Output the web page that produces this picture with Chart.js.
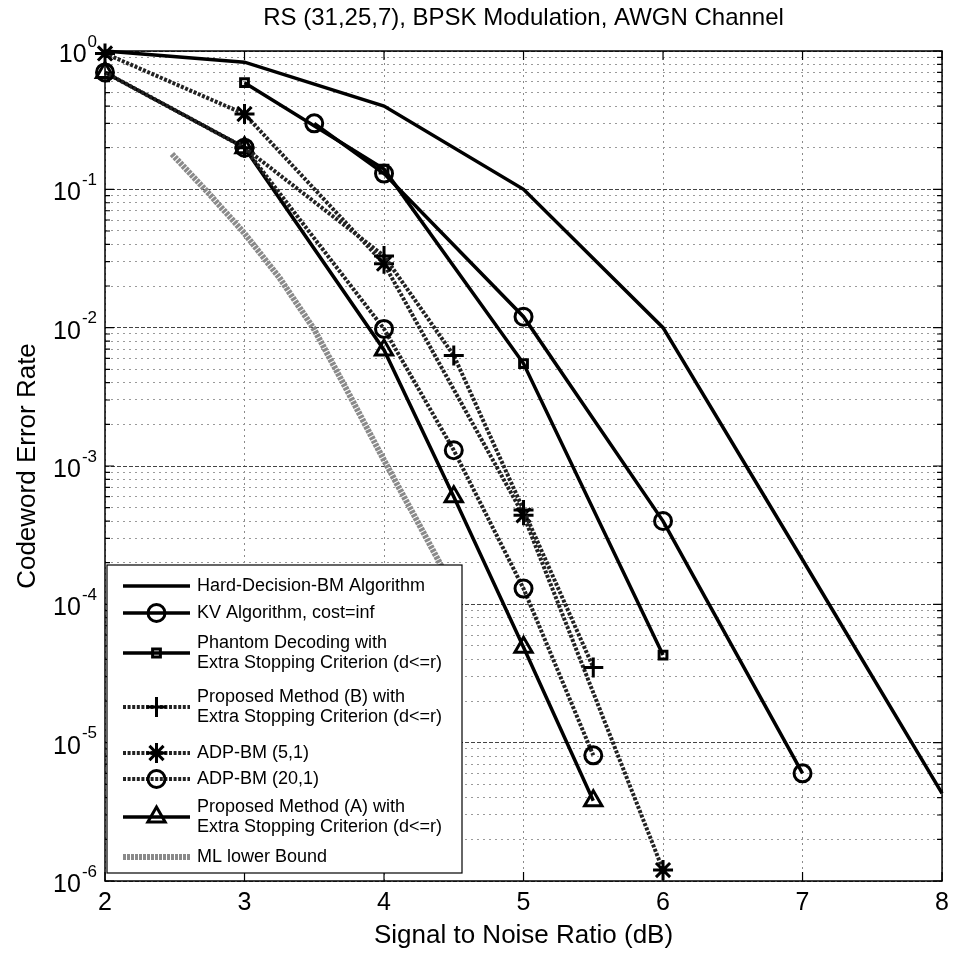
<!DOCTYPE html>
<html>
<head>
<meta charset="utf-8">
<script src="https://cdn.jsdelivr.net/npm/chart.js@4.4.1/dist/chart.umd.min.js"></script>
<style>
  html, body { margin: 0; padding: 0; background: #ffffff; }
  canvas { display: block; }
</style>
</head>
<body>
<canvas id="c" width="956" height="954"></canvas>
<script>
// ---------------- DATA ----------------
const chartTitle = 'RS (31,25,7), BPSK Modulation, AWGN Channel';
const xAxisTitle = 'Signal to Noise Ratio (dB)';
const yAxisTitle = 'Codeword Error Rate';

const xTickValues = [2, 3, 4, 5, 6, 7, 8];
const yMajorValues = [1, 1e-1, 1e-2, 1e-3, 1e-4, 1e-5, 1e-6];
const yTickBase = '10';
const yTickExponents = ['0', '-1', '-2', '-3', '-4', '-5', '-6'];

const snrHD = [2, 3, 4, 5, 6, 7, 8];
const cerHD = [1.0, 0.83, 0.40, 0.10, 0.010, 2.1e-4, 4.3e-6];

const snrKV = [3.5, 4, 5, 6, 7];
const cerKV = [0.30, 0.13, 0.012, 4.0e-4, 6.0e-6];

const snrPhantom = [3, 4, 5, 6];
const cerPhantom = [0.59, 0.14, 0.0055, 4.3e-5];

const snrPropB = [3, 4, 4.5, 5, 5.5];
const cerPropB = [0.20, 0.033, 0.0063, 4.8e-4, 3.5e-5];

const snrADP51 = [2, 3, 4, 5, 6];
const cerADP51 = [0.96, 0.35, 0.029, 4.4e-4, 1.2e-6];

const snrADP201 = [2, 3, 4, 4.5, 5, 5.5];
const cerADP201 = [0.70, 0.20, 0.0098, 1.3e-3, 1.3e-4, 8.1e-6];

const snrPropA = [2, 3, 4, 4.5, 5, 5.5];
const cerPropA = [0.70, 0.20, 0.0069, 6.0e-4, 4.9e-5, 3.8e-6];

const snrML = [2.48, 2.75, 3, 3.25, 3.5, 3.75, 4, 4.25, 4.45];
const cerML = [0.18, 0.092, 0.048, 0.023, 0.0097, 0.0033, 0.0011, 3.8e-4, 1.6e-4];

// ---------------- STYLES ----------------
const FONT = '"Liberation Sans", Arial, Helvetica, sans-serif';
const pts = (xs, ys) => xs.map((x, i) => ({ x: x, y: ys[i] }));
const DOT = [3, 1.6];

const seriesDefs = [
  { label: ['Hard-Decision-BM Algorithm'], x: snrHD, y: cerHD, color: '#000', width: 3.5, dash: [], style: false, r: 0 },
  { label: ['KV Algorithm, cost=inf'], x: snrKV, y: cerKV, color: '#000', width: 3.5, dash: [], style: 'circle', r: 8.5 },
  { label: ['Phantom Decoding with', 'Extra Stopping Criterion (d<=r)'], x: snrPhantom, y: cerPhantom, color: '#000', width: 3.5, dash: [], style: 'rect', r: 5.5 },
  { label: ['Proposed Method (B) with', 'Extra Stopping Criterion (d<=r)'], x: snrPropB, y: cerPropB, color: '#222', width: 4, dash: DOT, style: 'cross', r: 10 },
  { label: ['ADP-BM (5,1)'], x: snrADP51, y: cerADP51, color: '#222', width: 4, dash: DOT, style: 'star', r: 10 },
  { label: ['ADP-BM (20,1)'], x: snrADP201, y: cerADP201, color: '#222', width: 4, dash: DOT, style: 'circle', r: 8.5 },
  { label: ['Proposed Method (A) with', 'Extra Stopping Criterion (d<=r)'], x: snrPropA, y: cerPropA, color: '#000', width: 3.5, dash: [], style: 'triangle', r: 10 },
  { label: ['ML lower Bound'], x: snrML, y: cerML, color: '#8a8a8a', width: 6, dash: [3, 1], style: false, r: 0 }
];

const datasets = seriesDefs.map(s => ({
  label: s.label.join(' '),
  data: pts(s.x, s.y),
  borderColor: s.color,
  borderWidth: s.width,
  borderDash: s.dash,
  backgroundColor: 'rgba(0,0,0,0)',
  pointStyle: s.style || 'circle',
  pointRadius: s.style ? s.r : 0,
  pointBorderWidth: 3,
  pointBorderColor: '#000',
  pointBackgroundColor: 'rgba(0,0,0,0)',
  pointHoverRadius: s.style ? s.r : 0,
  tension: 0,
  fill: false,
  clip: false
}));

function isMajor(v) {
  const l = Math.log10(v);
  return Math.abs(l - Math.round(l)) < 1e-9;
}

// ---------------- PLUGIN: box, inner ticks, y labels, legend, title ----------------
const decorPlugin = {
  id: 'decor',
  afterDraw(chart) {
    const ctx = chart.ctx;
    const ca = chart.chartArea;
    const xs = chart.scales.x, ys = chart.scales.y;
    ctx.save();
    // box
    ctx.strokeStyle = '#000';
    ctx.lineWidth = 1.5;
    ctx.setLineDash([]);
    ctx.strokeRect(ca.left, ca.top, ca.right - ca.left, ca.bottom - ca.top);
    // inner ticks
    ctx.lineWidth = 1.2;
    ctx.beginPath();
    xTickValues.forEach(v => {
      const px = xs.getPixelForValue(v);
      ctx.moveTo(px, ca.bottom); ctx.lineTo(px, ca.bottom - 9);
      ctx.moveTo(px, ca.top); ctx.lineTo(px, ca.top + 9);
    });
    ys.ticks.forEach(t => {
      const py = ys.getPixelForValue(t.value);
      const len = isMajor(t.value) ? 9 : 5;
      ctx.moveTo(ca.left, py); ctx.lineTo(ca.left + len, py);
      ctx.moveTo(ca.right, py); ctx.lineTo(ca.right - len, py);
    });
    ctx.stroke();

    // y tick labels: 10 with raised exponent
    ctx.fillStyle = '#000';
    ctx.textBaseline = 'middle';
    yMajorValues.forEach((v, i) => {
      const py = ys.getPixelForValue(v);
      const rightX = ca.left - 8;
      ctx.font = '17px ' + FONT;
      ctx.textAlign = 'left';
      const ew = ctx.measureText(yTickExponents[i]).width;
      const ex = rightX - ew;
      ctx.fillText(yTickExponents[i], ex, py - 9);
      ctx.font = '25px ' + FONT;
      ctx.textAlign = 'right';
      ctx.fillText(yTickBase, ex - 1, py + 4);
    });

    // legend
    const L = { left: ca.left + 2, top: 565, right: 462, bottom: ca.bottom - 8 };
    ctx.fillStyle = '#fff';
    ctx.fillRect(L.left, L.top, L.right - L.left, L.bottom - L.top);
    ctx.strokeStyle = '#000';
    ctx.lineWidth = 1.2;
    ctx.strokeRect(L.left, L.top, L.right - L.left, L.bottom - L.top);
    const rowsY = [586, 613, 653, 707, 753, 779, 817, 857];
    const x1 = 123, x2 = 190, xm = 156.5, xt = 197;
    ctx.font = '18px ' + FONT;
    ctx.textBaseline = 'middle';
    ctx.textAlign = 'left';
    seriesDefs.forEach((s, i) => {
      const y = rowsY[i];
      ctx.save();
      ctx.strokeStyle = s.color;
      ctx.lineWidth = s.width;
      ctx.setLineDash(s.dash);
      ctx.beginPath(); ctx.moveTo(x1, y); ctx.lineTo(x2, y); ctx.stroke();
      ctx.restore();
      if (s.style) {
        ctx.save();
        ctx.setLineDash([]);
        ctx.strokeStyle = '#000';
        ctx.fillStyle = 'rgba(0,0,0,0)';
        ctx.lineWidth = 3;
        Chart.helpers.drawPoint(ctx, { pointStyle: s.style, radius: s.r, rotation: 0, borderWidth: 3 }, xm, y);
        ctx.restore();
      }
      ctx.fillStyle = '#000';
      if (s.label.length === 1) {
        ctx.fillText(s.label[0], xt, y);
      } else {
        ctx.fillText(s.label[0], xt, y - 10);
        ctx.fillText(s.label[1], xt, y + 10);
      }
    });

    // title
    ctx.fillStyle = '#000';
    ctx.font = '24px ' + FONT;
    ctx.textAlign = 'center';
    ctx.textBaseline = 'middle';
    ctx.fillText(chartTitle, (ca.left + ca.right) / 2, 18);
    ctx.restore();
  }
};

new Chart(document.getElementById('c'), {
  type: 'line',
  data: { datasets: datasets },
  plugins: [decorPlugin],
  options: {
    responsive: false,
    devicePixelRatio: 1,
    animation: false,
    events: [],
    layout: { padding: { top: 51, right: 11, left: 0, bottom: 0 } },
    plugins: {
      legend: { display: false },
      title: { display: false },
      tooltip: { enabled: false }
    },
    scales: {
      x: {
        type: 'linear',
        min: 2, max: 8,
        afterFit: s => { s.height = 73; },
        afterBuildTicks: s => { s.ticks = xTickValues.map(v => ({ value: v })); },
        ticks: {
          autoSkip: false,
          color: '#000',
          font: { family: FONT, size: 25 },
          padding: 7,
          callback: v => String(v)
        },
        grid: { color: '#8a8a8a', lineWidth: 1, drawTicks: false },
        border: { display: false, dash: [2, 4] },
        title: {
          display: true, text: xAxisTitle, color: '#000',
          font: { family: FONT, size: 26 }, padding: { top: 0, bottom: 3 }
        }
      },
      y: {
        type: 'logarithmic',
        min: 1e-6, max: 1,
        afterFit: s => { s.width = 105; },
        afterBuildTicks: s => {
          const t = [];
          for (let e = -6; e <= 0; e++) {
            for (let d = 1; d <= 9; d++) {
              const v = d * Math.pow(10, e);
              if (v > 1.0000001) break;
              t.push({ value: v, major: d === 1 });
            }
          }
          s.ticks = t;
        },
        ticks: {
          autoSkip: false,
          display: true,
          color: 'rgba(0,0,0,0)',
          font: { family: FONT, size: 22 },
          padding: 8,
          callback: v => ''
        },
        grid: {
          drawTicks: false,
          lineWidth: 1,
          color: c => (c.tick && isMajor(c.tick.value)) ? '#444' : '#9a9a9a'
        },
        border: {
          display: false,
          dash: c => (c.tick && isMajor(c.tick.value)) ? [4, 2] : [2, 4]
        },
        title: {
          display: true, text: yAxisTitle, color: '#000',
          font: { family: FONT, size: 26 }, padding: { top: 12, bottom: 0 }
        }
      }
    }
  }
});
</script>
</body>
</html>
